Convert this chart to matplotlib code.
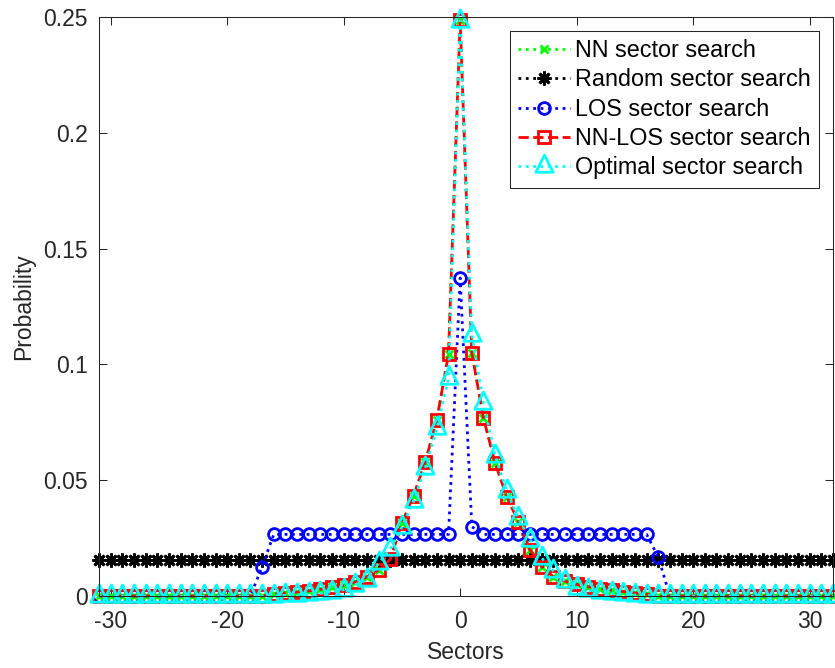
import matplotlib
matplotlib.use("Agg")
import matplotlib.pyplot as plt
from matplotlib.path import Path

plt.rcParams['font.family'] = ['Liberation Sans', 'DejaVu Sans']
plt.rcParams['axes.unicode_minus'] = False

# Sector indices shown on the x axis
sectors = list(range(-31, 33))

# Probabilities for sectors -16..16 (zero elsewhere)
nn_los_core = [0.0009, 0.0013, 0.0017, 0.0022, 0.0029, 0.0037, 0.0047, 0.0060,
               0.0083, 0.0112, 0.0158, 0.0314, 0.0433, 0.0578, 0.0762, 0.1045,
               0.2485,
               0.1050, 0.0768, 0.0574, 0.0428, 0.0320, 0.0199, 0.0127, 0.0083,
               0.0064, 0.0050, 0.0040, 0.0032, 0.0025, 0.0019, 0.0013, 0.0008]
nn_core = [0.0009, 0.0013, 0.0017, 0.0022, 0.0029, 0.0037, 0.0047, 0.0060,
           0.0083, 0.0112, 0.0158, 0.0314, 0.0433, 0.0578, 0.0762, 0.1045,
           0.2485,
           0.1050, 0.0768, 0.0574, 0.0428, 0.0320, 0.0199, 0.0127, 0.0083,
           0.0064, 0.0050, 0.0040, 0.0032, 0.0025, 0.0019, 0.0013, 0.0008]
# Optimal search: sectors -17..16
optimal_core = [0.0001, 0.0002, 0.0003, 0.0005, 0.0008, 0.0012, 0.0018, 0.0027,
                0.0049, 0.0070, 0.0142, 0.0204, 0.0298, 0.0410, 0.0553, 0.0725,
                0.0941,
                0.2484,
                0.1128, 0.0833, 0.0604, 0.0453, 0.0335, 0.0243, 0.0164, 0.0108,
                0.0065, 0.0035, 0.0025, 0.0017, 0.0011, 0.0007, 0.0004, 0.0002]
# LOS search: sectors -17..17
los_core = [0.0127] + [0.0266] * 16 + [0.1373, 0.0299] + [0.0266] * 15 + [0.0168]
# Uniform random search over 64 sectors
random_vals = [0.015625] * 64


def pad(core, first):
    """Place a list of values starting at sector `first`, zero elsewhere."""
    out = [0.0] * len(sectors)
    start = sectors.index(first)
    for i, v in enumerate(core):
        out[start + i] = v
    return out


nn = pad(nn_core, -16)
nn_los = pad(nn_los_core, -16)
optimal = pad(optimal_core, -17)
los = pad(los_core, -17)

# Triangle marker centred on its centroid
tri_marker = Path([(0, 4 / 3), (-1, -2 / 3), (1, -2 / 3), (0, 4 / 3)],
                  [Path.MOVETO, Path.LINETO, Path.LINETO, Path.CLOSEPOLY])

fig = plt.figure(figsize=(8.35, 6.68), dpi=100)
ax = fig.add_axes([99 / 835, 72 / 668, 734 / 835, 579 / 668])

lw = 2.0
mew = 2.0
ax.plot(sectors, nn, color=(0, 1, 0), ls=':', lw=lw, marker='x', ms=6, mew=mew,
        label='NN sector search', clip_on=False)
ax.plot(sectors, random_vals, color='k', ls=':', lw=lw, marker=(8, 2, 0), ms=10, mew=mew,
        label='Random sector search', clip_on=False)
ax.plot(sectors, los, color=(0, 0, 1), ls=':', lw=lw, marker='o', ms=8.5, mew=mew,
        mfc='none', label='LOS sector search', clip_on=False)
ax.plot(sectors, nn_los, color=(1, 0, 0), ls='--', lw=lw, marker='s', ms=8, mew=mew,
        mfc='none', label='NN-LOS sector search', clip_on=False)
ax.plot(sectors, optimal, color=(0, 1, 1), ls=':', lw=lw, marker=tri_marker, ms=16.5, mew=mew,
        mfc='none', label='Optimal sector search', clip_on=False)

ax.set_xlim(-31, 32)
ax.set_ylim(0, 0.25)
ax.set_xticks([-30, -20, -10, 0, 10, 20, 30])
ax.set_yticks([0, 0.05, 0.1, 0.15, 0.2, 0.25])
ax.set_yticklabels(['0', '0.05', '0.1', '0.15', '0.2', '0.25'])

gray = '#262626'
for s in ax.spines.values():
    s.set_color(gray)
    s.set_linewidth(0.75)
ax.tick_params(direction='in', length=6, width=0.75, colors=gray, labelsize=16.5,
               top=True, right=True)
ax.tick_params(axis='x', pad=10)
ax.tick_params(axis='y', pad=8)
ax.set_xlabel('Sectors', fontsize=16.5, color=gray, labelpad=6)
ax.set_ylabel('Probability', fontsize=16.5, color=gray, labelpad=6)

leg = ax.legend(loc='upper right', bbox_to_anchor=(819 / 835, 1 - 31 / 668),
                bbox_transform=fig.transFigure, borderaxespad=0, fontsize=16.8,
                numpoints=1, handlelength=2.23, handletextpad=0.21, labelspacing=0.27,
                borderpad=0.35, fancybox=False, framealpha=1)
leg.get_frame().set_edgecolor(gray)
leg.get_frame().set_linewidth(0.75)

fig.savefig('out.png', dpi=100)
